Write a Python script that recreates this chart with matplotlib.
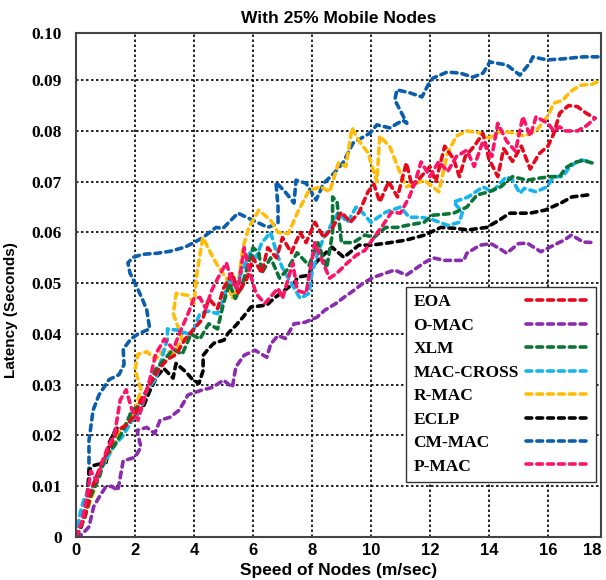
import matplotlib
matplotlib.use("Agg")
import matplotlib.pyplot as plt

# ---- data (speed in m/sec, latency in seconds) ----
eoa_x = [0, 0.3, 0.5, 0.7, 0.9, 1.1, 1.4, 1.7, 2.0, 2.2, 2.5, 2.8, 3.1, 3.4, 3.7, 4.0, 4.3, 4.5, 4.8, 5.0,
         5.3, 5.5, 5.8, 6.0, 6.3, 6.5, 6.8, 7.0, 7.3, 7.6, 7.8, 8.1, 8.4, 8.7, 9.0, 9.3, 9.6, 9.9, 10.1, 10.3,
         10.6, 10.9, 11.2, 11.4, 11.7, 12.0, 12.2, 12.5, 12.8, 13.0, 13.2, 13.5, 13.8, 14.0, 14.3, 14.5, 14.8,
         15.1, 15.4, 15.7, 16.0, 16.2, 16.4, 16.7, 17.0, 17.3, 17.6]
eoa_y = [0, 0.004, 0.009, 0.012, 0.015, 0.017, 0.021, 0.022, 0.024, 0.027, 0.030, 0.033, 0.035, 0.036, 0.039,
         0.041, 0.043, 0.047, 0.045, 0.049, 0.052, 0.048, 0.051, 0.055, 0.052, 0.057, 0.055, 0.059, 0.056, 0.060,
         0.058, 0.062, 0.059, 0.061, 0.064, 0.062, 0.064, 0.068, 0.0695, 0.066, 0.070, 0.067, 0.0737, 0.069,
         0.071, 0.073, 0.070, 0.077, 0.0745, 0.071, 0.075, 0.077, 0.0795, 0.0745, 0.071, 0.0765, 0.074, 0.077,
         0.0725, 0.0755, 0.077, 0.0795, 0.0835, 0.085, 0.0848, 0.0835, 0.0825]

omac_x = [0, 0.2, 0.44, 0.6, 0.8, 1.0, 1.2, 1.42, 1.6, 2.0, 2.2, 2.07, 2.4, 2.67, 2.85, 3.19, 3.5, 3.8, 4.24,
          4.64, 5.0, 5.3, 5.42, 5.7, 6.07, 6.47, 6.6, 6.85, 7.1, 7.39, 7.76, 8.17, 8.44, 8.81, 9.08, 9.4, 9.73,
          10.1, 10.5, 10.8, 11.2, 11.8, 12.1, 12.5, 13.15, 13.25, 13.7, 14.07, 14.45, 14.6, 15.0, 15.3, 15.76,
          16.2, 16.55, 16.8, 17.2, 17.6]
omac_y = [0, 0.0005, 0.002, 0.006, 0.008, 0.0098, 0.010, 0.0092, 0.015, 0.0157, 0.0177, 0.021, 0.0216, 0.0204,
          0.023, 0.0236, 0.025, 0.028, 0.0289, 0.0295, 0.0309, 0.0295, 0.0335, 0.0358, 0.0368, 0.0354, 0.038,
          0.0397, 0.0391, 0.042, 0.0423, 0.0433, 0.0447, 0.046, 0.0472, 0.0485, 0.050, 0.0512, 0.052, 0.0526,
          0.0516, 0.054, 0.055, 0.0545, 0.0545, 0.0559, 0.0575, 0.0578, 0.0565, 0.0559, 0.0578, 0.0579, 0.0562,
          0.0575, 0.0585, 0.0595, 0.0581, 0.058]

xlm_x = [0, 0.3, 0.5, 0.8, 1.0, 1.3, 1.6, 1.9, 2.2, 2.5, 2.7, 3.0, 3.3, 3.6, 3.9, 4.2, 4.5, 4.8, 5.0, 5.2,
         5.4, 5.6, 5.8, 6.0, 6.2, 6.3, 6.6, 6.9, 7.15, 7.5, 7.9, 8.2, 8.5, 8.7, 8.7, 8.85, 9.0, 9.4, 9.8, 10.1,
         10.5, 10.9, 11.3, 11.8, 12.1, 12.5, 12.8, 13.25, 13.6, 14.0, 14.4, 14.8, 15.3, 15.7, 16.1, 16.4, 16.6,
         16.9, 17.2, 17.5]
xlm_y = [0, 0.004, 0.008, 0.012, 0.016, 0.018, 0.021, 0.025, 0.026, 0.030, 0.033, 0.035, 0.037, 0.036, 0.040,
         0.039, 0.042, 0.041, 0.046, 0.050, 0.047, 0.049, 0.053, 0.057, 0.056, 0.052, 0.055, 0.051, 0.0526,
         0.056, 0.0535, 0.058, 0.053, 0.060, 0.067, 0.066, 0.058, 0.058, 0.0595, 0.059, 0.061, 0.061, 0.0615,
         0.062, 0.0634, 0.0636, 0.0638, 0.065, 0.0674, 0.068, 0.069, 0.071, 0.0703, 0.0707, 0.071, 0.071, 0.0727,
         0.0738, 0.0742, 0.0737]

cross_x = [0, 0.15, 0.3, 0.5, 0.7, 1.0, 1.3, 1.6, 1.9, 2.2, 2.4, 2.7, 2.9, 3.1, 3.1, 3.5, 3.8, 4.0, 4.2, 4.5,
           4.8, 5.0, 5.2, 5.4, 5.6, 5.9, 6.1, 6.3, 6.6, 6.8, 7.0, 7.3, 7.6, 7.9, 8.0, 8.2, 8.4, 8.6, 8.9, 9.2,
           9.5, 9.7, 10.0, 10.5, 11.0, 11.3, 11.7, 12.1, 12.6, 13.0, 13.1, 12.8, 13.3, 13.8, 14.1, 14.6, 14.8,
           15.05, 15.2, 15.6, 15.97, 16.2, 16.5, 16.75, 17.1, 17.4]
cross_y = [0, 0.005, 0.008, 0.009, 0.012, 0.015, 0.018, 0.020, 0.023, 0.025, 0.029, 0.031, 0.035, 0.039,
           0.041, 0.0407, 0.040, 0.041, 0.044, 0.0445, 0.044, 0.047, 0.051, 0.049, 0.052, 0.056, 0.055, 0.058,
           0.060, 0.056, 0.053, 0.050, 0.047, 0.048, 0.052, 0.056, 0.059, 0.061, 0.064, 0.062, 0.065, 0.064,
           0.062, 0.064, 0.065, 0.063, 0.063, 0.0625, 0.0614, 0.062, 0.064, 0.066, 0.067, 0.069, 0.068, 0.071,
           0.0703, 0.0677, 0.0687, 0.068, 0.069, 0.071, 0.071, 0.073, 0.0743, 0.074]

rmac_x = [0, 0.3, 0.6, 0.9, 1.2, 1.5, 1.8, 2.0, 2.2, 2.0, 2.1, 2.4, 2.7, 3.0, 3.3, 3.6, 3.3, 3.4, 3.8, 4.0,
          4.1, 4.3, 4.65, 4.85, 5.1, 5.3, 5.5, 5.66, 5.86, 6.2, 6.6, 6.85, 7.2, 7.5, 7.9, 8.3, 8.6, 8.9, 9.15,
          9.36, 9.6, 9.9, 10.2, 10.3, 10.65, 10.9, 11.2, 11.8, 12.1, 12.3, 12.6, 12.9, 13.25, 13.7, 14.0, 14.4,
          14.85, 15.2, 15.6, 16.0, 16.2, 16.5, 16.75, 17.1, 17.5, 17.8]
rmac_y = [0, 0.004, 0.009, 0.014, 0.017, 0.021, 0.023, 0.025, 0.029, 0.033, 0.036, 0.0365, 0.035, 0.037,
          0.036, 0.039, 0.044, 0.048, 0.0476, 0.046, 0.052, 0.059, 0.055, 0.053, 0.051, 0.047, 0.050, 0.057,
          0.061, 0.0644, 0.0624, 0.060, 0.0598, 0.0638, 0.0683, 0.069, 0.068, 0.0737, 0.073, 0.0806, 0.078,
          0.0757, 0.070, 0.079, 0.0768, 0.073, 0.069, 0.0703, 0.069, 0.068, 0.0757, 0.079, 0.080, 0.0796,
          0.0786, 0.080, 0.0796, 0.079, 0.080, 0.083, 0.0855, 0.086, 0.0877, 0.089, 0.0892, 0.090]

eclp_x = [0, 0.17, 0.34, 0.41, 0.44, 0.61, 1.02, 1.08, 1.12, 1.36, 1.69, 1.97, 2.14, 2.27, 2.44, 2.54, 2.78,
          2.98, 3.29, 3.39, 3.73, 3.97, 4.17, 4.31, 4.31, 4.51, 4.68, 5.02, 5.15, 5.42, 5.66, 5.93, 6.47, 6.71,
          6.98, 7.39, 7.53, 7.9, 7.97, 8.3, 8.68, 9.08, 9.59, 10.0, 10.54, 11.19, 11.83, 12.37, 12.88, 13.29,
          13.93, 14.34, 14.71, 15.39, 15.9, 16.44, 16.81, 17.36]
eclp_y = [0, 0.0019, 0.0052, 0.0092, 0.0131, 0.0141, 0.0147, 0.0165, 0.0185, 0.0214, 0.0216, 0.0234, 0.0246,
          0.0255, 0.0279, 0.0293, 0.0319, 0.0332, 0.0313, 0.0342, 0.0325, 0.0309, 0.0303, 0.0328, 0.0358,
          0.0372, 0.0382, 0.0388, 0.0401, 0.0417, 0.0433, 0.0453, 0.0457, 0.047, 0.0482, 0.050, 0.0512, 0.0516,
          0.053, 0.0551, 0.0571, 0.0551, 0.0575, 0.0575, 0.0579, 0.0585, 0.0595, 0.061, 0.0608, 0.0605, 0.061,
          0.0624, 0.0638, 0.0638, 0.0644, 0.0658, 0.067, 0.0674]

cm_x = [0, 0.17, 0.34, 0.44, 0.44, 0.58, 0.78, 1.12, 1.46, 1.63, 1.6, 1.86, 2.1, 2.5, 2.4, 2.24, 2.0, 1.83,
        1.76, 1.93, 2.27, 2.75, 3.19, 3.69, 4.03, 4.3, 4.75, 4.98, 5.49, 6.0, 6.5, 6.85, 6.85, 6.78, 7.12, 7.39,
        7.46, 7.8, 8.14, 8.4, 8.75, 9.05, 9.39, 9.97, 10.2, 10.64, 11.08, 11.22, 10.81, 10.88, 11.32, 11.73,
        11.93, 12.1, 12.58, 13.02, 13.46, 13.8, 14.03, 14.61, 15.05, 15.39, 15.49, 15.97, 16.5, 17.19, 17.76]
cm_y = [0, 0.002, 0.0066, 0.012, 0.019, 0.025, 0.028, 0.031, 0.032, 0.034, 0.037, 0.039, 0.040, 0.041,
        0.0447, 0.047, 0.050, 0.052, 0.054, 0.0551, 0.0557, 0.0559, 0.0563, 0.0571, 0.0581, 0.059, 0.061,
        0.0608, 0.0638, 0.0624, 0.061, 0.0618, 0.065, 0.0699, 0.0678, 0.0658, 0.0703, 0.0697, 0.0664, 0.0697,
        0.0717, 0.0737, 0.0776, 0.0796, 0.0812, 0.0806, 0.0821, 0.0815, 0.0861, 0.0881, 0.0875, 0.0867, 0.089,
        0.0904, 0.0916, 0.0914, 0.0906, 0.0914, 0.0936, 0.093, 0.091, 0.0934, 0.0946, 0.094, 0.0942, 0.0946,
        0.0946]

pmac_x = [0, 0.2, 0.4, 0.5, 0.7, 0.9, 1.1, 1.3, 1.5, 1.7, 1.9, 2.1, 2.3, 2.5, 2.7, 3.0, 3.3, 3.5, 3.8, 4.0,
          4.2, 4.4, 4.6, 4.9, 5.1, 5.3, 5.5, 5.7, 5.9, 6.1, 6.4, 6.85, 7.0, 7.35, 7.5, 7.8, 8.1, 8.3, 8.6, 8.85,
          9.2, 9.5, 9.8, 10.1, 10.4, 10.7, 11.0, 11.3, 11.5, 11.7, 12.0, 12.3, 12.6, 12.9, 13.25, 13.5, 13.8,
          14.1, 14.3, 14.6, 14.9, 15.15, 15.4, 15.6, 16.0, 16.2, 16.4, 16.6, 17.0, 17.3, 17.6]
pmac_y = [0, 0.003, 0.009, 0.013, 0.011, 0.015, 0.018, 0.020, 0.027, 0.029, 0.025, 0.023, 0.027, 0.031,
          0.036, 0.039, 0.037, 0.040, 0.044, 0.047, 0.0472, 0.045, 0.0486, 0.052, 0.054, 0.050, 0.049, 0.057,
          0.052, 0.048, 0.046, 0.049, 0.047, 0.054, 0.0486, 0.048, 0.058, 0.055, 0.051, 0.052, 0.054, 0.0555,
          0.0565, 0.059, 0.0614, 0.064, 0.0638, 0.067, 0.070, 0.0739, 0.071, 0.074, 0.072, 0.075, 0.0762,
          0.073, 0.078, 0.075, 0.0815, 0.078, 0.076, 0.0828, 0.079, 0.0828, 0.0815, 0.080, 0.0808, 0.080, 0.080,
          0.081, 0.0825]

labels = ["EOA", "O-MAC", "XLM", "MAC-CROSS", "R-MAC", "ECLP", "CM-MAC", "P-MAC"]
colors = ["#e5091c", "#8a2cae", "#0b7537", "#16b5ef", "#ffbc0a", "#000000", "#0a5eab", "#fb1468"]
series = [(eoa_x, eoa_y), (omac_x, omac_y), (xlm_x, xlm_y), (cross_x, cross_y),
          (rmac_x, rmac_y), (eclp_x, eclp_y), (cm_x, cm_y), (pmac_x, pmac_y)]

xtick_pos = [0, 2, 4, 6, 8, 10, 12, 14, 16, 17.8]
xtick_lab = ["0", "2", "4", "6", "8", "10", "12", "14", "16", "18"]
ytick_pos = [0, 0.01, 0.02, 0.03, 0.04, 0.05, 0.06, 0.07, 0.08, 0.09, 0.0993]
ytick_lab = ["0", "0.01", "0.02", "0.03", "0.04", "0.05", "0.06", "0.07", "0.08", "0.09", "0.10"]

sans = "Liberation Sans"
serif = "Liberation Serif"

fig = plt.figure(figsize=(6.06, 5.8), dpi=100)
ax = fig.add_axes([76 / 606, 1 - 537 / 580, 525 / 606, 504 / 580])

# draw order: blue first so the tangled band sits over it
order = [6, 1, 5, 4, 3, 2, 0, 7]
lines = {}
for i in order:
    x, y = series[i]
    ln, = ax.plot(x, y, color=colors[i], lw=2.6, linestyle=(0, (1.6, 1.4)),
                  dash_capstyle="round", label=labels[i])
    lines[i] = ln

ax.set_xlim(0, 17.8)
ax.set_ylim(0, 0.0993)
ax.set_xticks(xtick_pos)
ax.set_xticklabels(xtick_lab, fontfamily=sans, fontweight="bold", fontsize=12)
ax.get_xticklabels()[-1].set_horizontalalignment("right")
ax.set_yticks(ytick_pos)
ax.set_yticklabels(ytick_lab, fontfamily=serif, fontweight="bold", fontsize=12.5)
ax.tick_params(axis="both", length=0)
ax.tick_params(axis="y", pad=10)
ax.tick_params(axis="x", pad=4)
ax.grid(True, color="black", linestyle=(0, (1.5, 1.5)), lw=1.2)
ax.set_axisbelow(True)
for sp in ax.spines.values():
    sp.set_color("#444444")
    sp.set_linewidth(1.5)

ax.set_title("With 25% Mobile Nodes", fontfamily=sans, fontweight="bold", fontsize=12.5, pad=7)
ax.set_xlabel("Speed of Nodes (m/sec)", fontfamily=sans, fontweight="bold", fontsize=12.5, labelpad=4)
ax.set_ylabel("Latency (Seconds)", fontfamily=sans, fontweight="bold", fontsize=11)
ax.yaxis.set_label_coords(-0.11, 0.45)

leg = ax.legend([lines[i] for i in range(8)], labels, loc="upper left",
                bbox_to_anchor=(0.629, 0.496), borderaxespad=0, markerfirst=False,
                handlelength=3.6, handletextpad=0.4, labelspacing=0.42, borderpad=0.42,
                fancybox=False, framealpha=1, edgecolor="#333333",
                prop={"family": serif, "weight": "bold", "size": 12.5})
leg.get_frame().set_linewidth(1.0)

# left-align the labels while keeping the sample lines in one column on the right
fig.canvas.draw()
renderer = fig.canvas.get_renderer()
col = leg._legend_handle_box.get_children()[0]
col.align = "left"
rows = col.get_children()
widths = [r.get_children()[0].get_window_extent(renderer).width for r in rows]
base_sep = 0.4 * 12.5
for r, w in zip(rows, widths):
    r.sep = base_sep + (max(widths) - w) * 72 / fig.dpi

fig.savefig("out.png", dpi=100)
